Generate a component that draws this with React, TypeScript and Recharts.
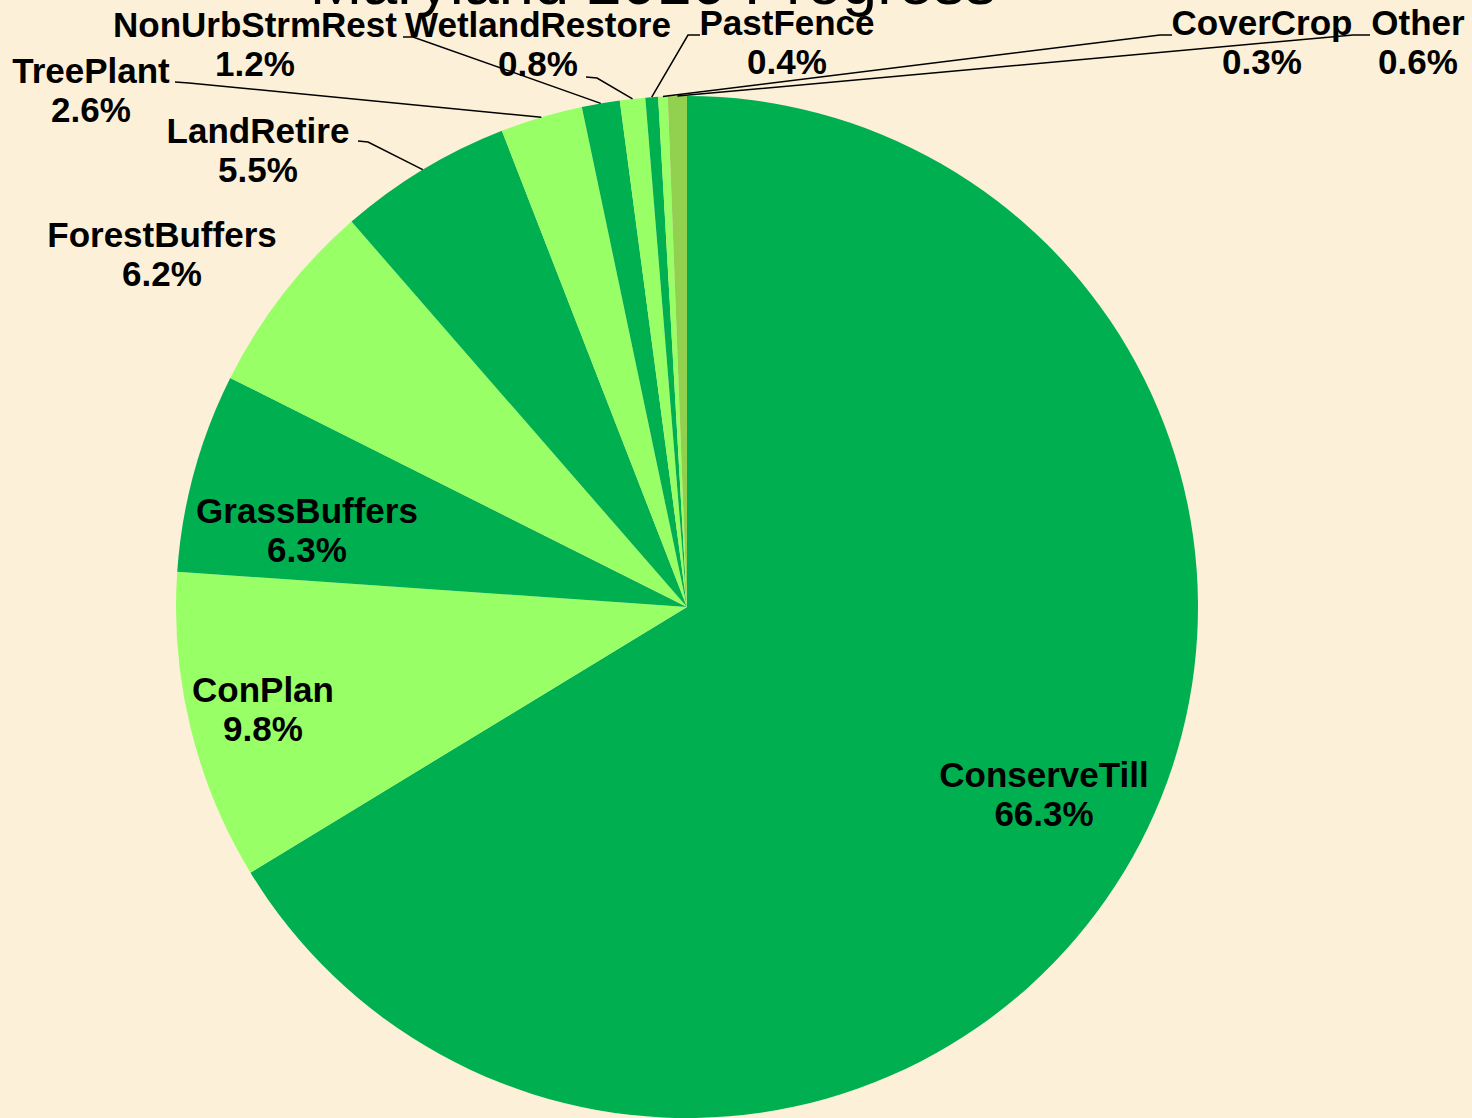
import React from 'react';
import { PieChart, Pie, Cell } from 'recharts';

/* Maryland 2010 Progress — share of BMP implementation, one pie */

const categories = [
  'ConserveTill',
  'ConPlan',
  'GrassBuffers',
  'ForestBuffers',
  'LandRetire',
  'TreePlant',
  'NonUrbStrmRest',
  'WetlandRestore',
  'PastFence',
  'CoverCrop',
  'Other',
];
const shares = [66.3, 9.8, 6.3, 6.2, 5.5, 2.6, 1.2, 0.8, 0.4, 0.3, 0.6];

const DARK = '#00B050';
const LIGHT = '#99FF66';
const OLIVE = '#92D050';
const sliceColors = [DARK, LIGHT, DARK, LIGHT, DARK, LIGHT, DARK, LIGHT, DARK, LIGHT, OLIVE];

const BG = '#FCF1D8';
const FONT = '"Liberation Sans", Arial, sans-serif';

// label placement relative to pie centre: [dx of text centre, dy of first baseline]
const labelOffset: [number, number][] = [
  [357, 180],
  [-424, 95],
  [-380, -84],
  [-525, -360],
  [-429, -464],
  [-596, -524],
  [-432, -570],
  [-149, -570],
  [100, -572],
  [575, -572],
  [731, -572],
];
// leader line: start near text, elbow, then to the slice edge
const leaderPts: ([number, number][] | null)[] = [
  null,
  null,
  null,
  null,
  [[-329, -466], [-319, -465]],
  [[-512, -525], [-498, -524]],
  [[-284, -570], [-274, -570]],
  [[-101, -530], [-90, -529]],
  [[13, -572], [1, -572]],
  [[485, -572], [473, -572]],
  [[683, -572], [666, -572]],
];

const data = categories.map((name, i) => ({ name, value: shares[i] }));

const RAD = Math.PI / 180;

function renderLabel(props: any) {
  const { cx, cy, midAngle, outerRadius, index } = props;
  const [dx, dy] = labelOffset[index];
  const x = cx + dx;
  const y = cy + dy;
  const lp = leaderPts[index];
  let line = null;
  if (lp) {
    const ex = cx + outerRadius * Math.cos(-midAngle * RAD);
    const ey = cy + outerRadius * Math.sin(-midAngle * RAD);
    const pts = lp.map(([px, py]) => `${cx + px},${cy + py}`).join(' ') + ` ${ex},${ey}`;
    line = <polyline points={pts} fill="none" stroke="#000" strokeWidth={1.5} />;
  }
  return (
    <g key={`lbl-${index}`}>
      {line}
      <text
        x={x}
        y={y}
        textAnchor="middle"
        fontFamily={FONT}
        fontWeight="bold"
        fontSize={35}
        fill="#000"
      >
        {categories[index]}
      </text>
      <text
        x={x}
        y={y + 39}
        textAnchor="middle"
        fontFamily={FONT}
        fontWeight="bold"
        fontSize={35}
        fill="#000"
      >
        {shares[index].toFixed(1)}%
      </text>
    </g>
  );
}

export default function App() {
  return (
    <div
      style={{
        position: 'absolute',
        left: 0,
        top: 0,
        width: 1472,
        height: 1118,
        overflow: 'hidden',
        background: BG,
      }}
    >
      <svg
        width={1472}
        height={1118}
        style={{ position: 'absolute', left: 0, top: 0 }}
      >
        <text
          x={653}
          y={4}
          textAnchor="middle"
          fontFamily={FONT}
          fontSize={63}
          fill="#000"
        >
          Maryland 2010 Progress
        </text>
      </svg>
      <div style={{ position: 'absolute', left: 0, top: 0 }}>
        <PieChart width={1472} height={1118} margin={{ top: 0, right: 0, bottom: 0, left: 0 }}>
          <Pie
            data={data}
            dataKey="value"
            nameKey="name"
            cx={687}
            cy={607}
            outerRadius={511}
            startAngle={90}
            endAngle={-270}
            stroke="none"
            labelLine={false}
            label={renderLabel}
            isAnimationActive={false}
          >
            {data.map((d, i) => (
              <Cell key={d.name} fill={sliceColors[i]} />
            ))}
          </Pie>
        </PieChart>
      </div>
    </div>
  );
}
